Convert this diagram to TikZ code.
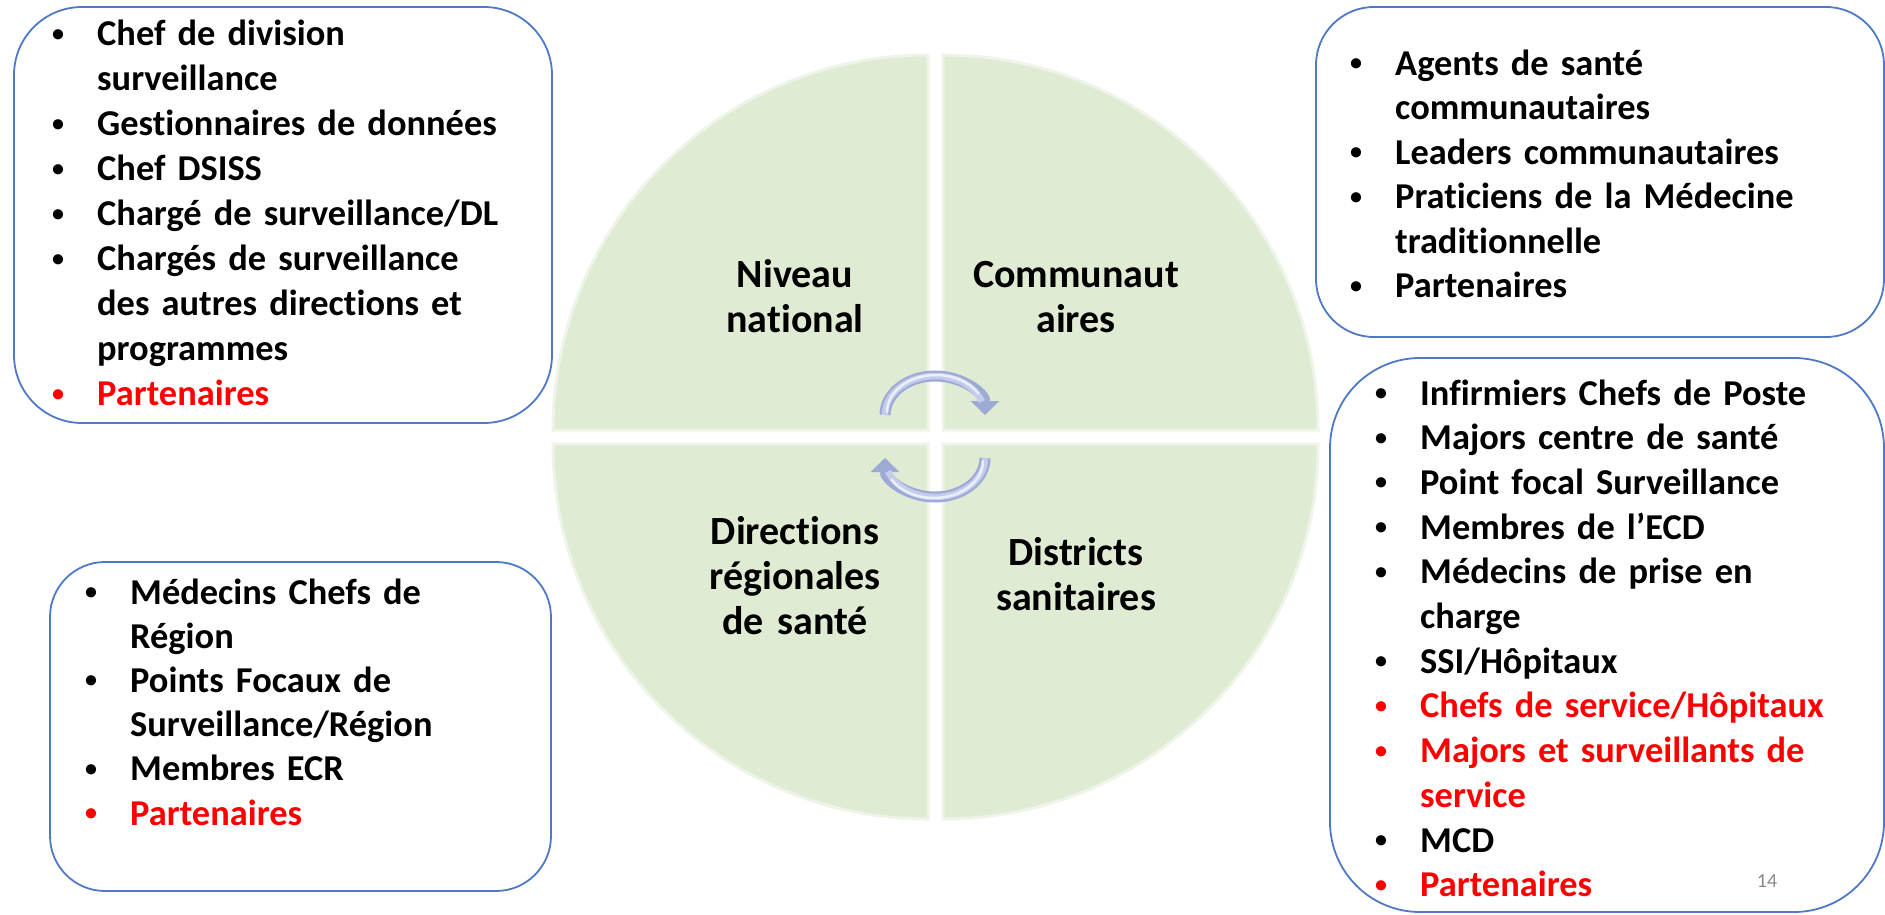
\documentclass[tikz,border=0pt]{standalone}
\usepackage{fontspec}
\setmainfont{Carlito}[Ligatures={NoCommon}]
\usetikzlibrary{arrows.meta}
\definecolor{qfill}{RGB}{224,235,212}
\definecolor{qedge}{RGB}{238,244,232}
\definecolor{boxblue}{RGB}{79,121,196}
\definecolor{arrbase}{RGB}{158,170,214}
\definecolor{arrmid}{RGB}{196,204,236}
\definecolor{arrhi}{RGB}{236,239,250}
\definecolor{pred}{RGB}{255,0,0}
\definecolor{pgnum}{RGB}{137,137,137}
\newcommand{\bu}{\makebox[47pt][l]{\hspace{2pt}\raisebox{4.5pt}{\fontsize{24}{0}\selectfont •}}}
\newcommand{\cu}{\hspace*{47pt}}
\newcommand{\ru}[1]{{\color{pred}\bu #1}}
\newcommand{\rc}[1]{{\color{pred}\cu #1}}
\tikzset{
  boxst/.style={draw=boxblue, line width=1.8pt, fill=white, rectangle, inner sep=0pt},
  quad/.style={fill=qfill, draw=qedge, line width=3pt},
  qlabel/.style={font=\fontsize{40}{45}\selectfont\bfseries, align=center, text width=300pt, inner sep=0pt, anchor=base},
  listtext/.style={font=\fontsize{36.4}{45}\selectfont\bfseries, align=left, text width=540pt, inner sep=0pt, anchor=base west},
  cyc/.style={line width=11pt, draw=arrbase, -{Triangle[width=28pt,length=14pt]}},
  cycmid/.style={line width=6.5pt, draw=arrmid},
  cychi/.style={line width=2.5pt, draw=arrhi, line cap=round}
}
\begin{document}
\begin{tikzpicture}[x=1pt,y=-1pt]
\useasboundingbox (0,0) rectangle (1885,915);
% quadrants
\draw[quad] (553,430) arc[start angle=180,end angle=270,radius=375] -- (928,430) -- cycle;
\draw[quad] (943,55) arc[start angle=270,end angle=360,radius=375] -- (943,430) -- cycle;
\draw[quad] (928,819) arc[start angle=90,end angle=180,radius=375] -- (928,444) -- cycle;
\draw[quad] (1318,444) arc[start angle=0,end angle=90,radius=375] -- (943,444) -- cycle;
% quadrant labels
\node[qlabel] (nat) at (795,287) {Niveau\\national};
\node[qlabel] (com) at (1076,287) {Communaut\\aires};
\node[qlabel] (reg) at (795,544) {Directions\\régionales\\de santé};
\node[qlabel] (dis) at (1076,565) {Districts\\sanitaires};
% cycle arrows
\draw[cyc] (885,415) arc[start angle=180,end angle=360,x radius=50,y radius=39];
\draw[cycmid] (885,415) arc[start angle=180,end angle=340,x radius=50,y radius=39];
\draw[cychi] (887,412) arc[start angle=180,end angle=330,x radius=49,y radius=37];
\draw[cyc] (985,458) arc[start angle=0,end angle=180,x radius=50,y radius=39];
\draw[cycmid] (985,458) arc[start angle=0,end angle=160,x radius=50,y radius=39];
\draw[cychi] (983,461) arc[start angle=0,end angle=150,x radius=49,y radius=37];
% boxes
\node[boxst, minimum width=538pt, minimum height=416pt, rounded corners=68pt] (b1) at (283,215) {};
\node[boxst, minimum width=568pt, minimum height=330pt, rounded corners=58pt] (b2) at (1600,172) {};
\node[boxst, minimum width=554pt, minimum height=554pt, rounded corners=90pt] (b3) at (1607,635) {};
\node[boxst, minimum width=501pt, minimum height=329pt, rounded corners=55pt] (b4) at (300.5,726.5) {};
% lists
\node[listtext] (l1) at (50,46) {\bu Chef de division\\ \cu surveillance\\ \bu Gestionnaires de données\\ \bu Chef DSISS\\ \bu Chargé de surveillance/DL\\ \bu Chargés de surveillance\\ \cu des autres directions et\\ \cu programmes\\ \ru{Partenaires}};
\node[listtext, font=\fontsize{36.4}{44.5}\selectfont\bfseries] (l2) at (1348,75.5) {\bu Agents de santé\\ \cu communautaires\\ \bu Leaders communautaires\\ \bu Praticiens de la Médecine\\ \cu traditionnelle\\ \bu Partenaires};
\node[listtext, font=\fontsize{36.4}{44.7}\selectfont\bfseries] (l3) at (1373,405) {\bu Infirmiers Chefs de Poste\\ \bu Majors centre de santé\\ \bu Point focal Surveillance\\ \bu Membres de l’ECD\\ \bu Médecins de prise en\\ \cu charge\\ \bu SSI/Hôpitaux\\ \ru{Chefs de service/Hôpitaux}\\ \ru{Majors et surveillants de}\\ \rc{service}\\ \bu MCD\\ \ru{Partenaires}};
\node[listtext, font=\fontsize{36.4}{44.2}\selectfont\bfseries] (l4) at (83,604) {\bu Médecins Chefs de\\ \cu Région\\ \bu Points Focaux de\\ \cu Surveillance/Région\\ \bu Membres ECR\\ \ru{Partenaires}};
% page number
\node[font=\fontsize{20}{24}\selectfont, text=pgnum, anchor=base, inner sep=0pt] (pg) at (1767,887) {14};
\end{tikzpicture}
\end{document}
